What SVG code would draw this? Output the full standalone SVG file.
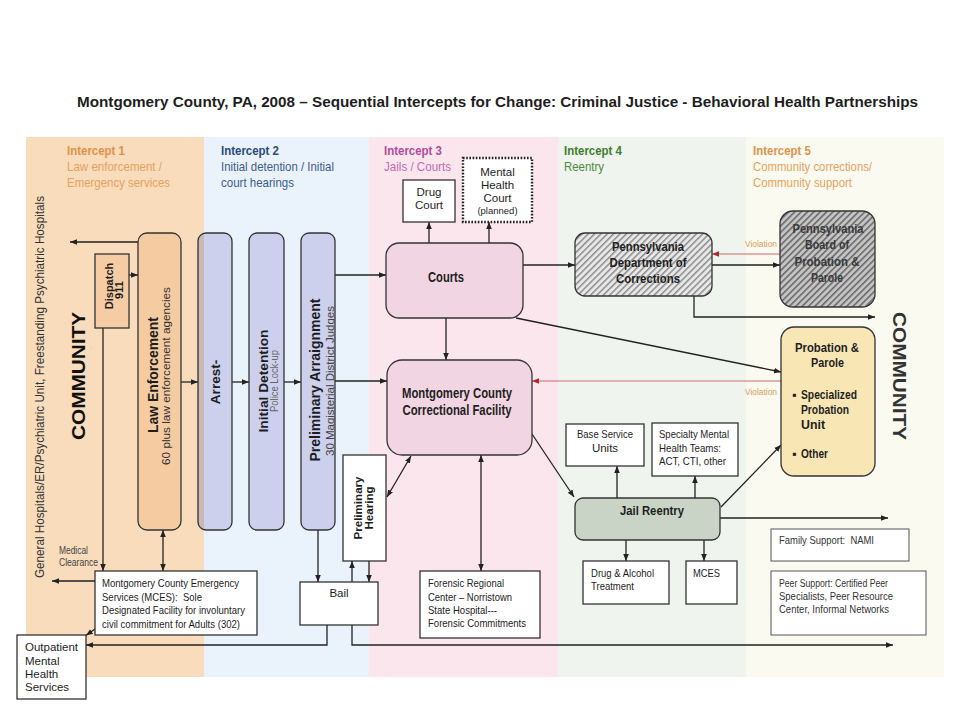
<svg xmlns="http://www.w3.org/2000/svg" width="960" height="720" viewBox="0 0 960 720">
<style>
.t{font-family:"Liberation Sans",Arial,Helvetica,sans-serif;font-size:11.5px;fill:#1e1e1e}
.b{font-weight:bold}
.m{text-anchor:middle}
.h{font-size:13.5px}
.box{stroke:#333;stroke-width:1.3}
.w{fill:#fff}
.lav{fill:#cdd0ec}
.pink{fill:#f2d5e2}
#connectors line,#connectors path{stroke:#222;stroke-width:1.3;fill:none}
#connectors .red{stroke:#cc6b6b;stroke-width:1}
.i1{fill:#e0924a}.i1s{fill:#e6a260}
.i2{fill:#2c4a7c}.i2s{fill:#3d5c8c}
.i3{fill:#b24b9b}.i3s{fill:#c46caf}
.i4{fill:#3f7d2e}.i4s{fill:#4b8a3b}
.viol{font-size:9.5px;fill:#d6a060}
</style>
<defs>
<marker id="ah" viewBox="0 0 10 10" refX="10" refY="5" markerWidth="7" markerHeight="7" markerUnits="userSpaceOnUse" orient="auto-start-reverse"><path d="M0,1 L10,5 L0,9z" fill="#222"/></marker>
<marker id="ahr" viewBox="0 0 10 10" refX="10" refY="5" markerWidth="7" markerHeight="7" markerUnits="userSpaceOnUse" orient="auto"><path d="M0,1 L10,5 L0,9z" fill="#b0262a"/></marker>
<pattern id="hatchL" width="4.5" height="4.5" patternUnits="userSpaceOnUse" patternTransform="rotate(45)"><rect width="4.5" height="4.5" fill="#e8e8e8"/><line x1="0.8" y1="0" x2="0.8" y2="4.5" stroke="#6a6a6a" stroke-width="1.1"/></pattern>
<pattern id="hatchD" width="4.5" height="4.5" patternUnits="userSpaceOnUse" patternTransform="rotate(45)"><rect width="4.5" height="4.5" fill="#c4c4c4"/><line x1="0.8" y1="0" x2="0.8" y2="4.5" stroke="#555" stroke-width="1.3"/></pattern>
<clipPath id="arrClip"><rect x="198" y="233" width="34" height="297" rx="8"/></clipPath>
<clipPath id="paClip"><rect x="301" y="233" width="33.5" height="297" rx="8"/></clipPath>
</defs>
<rect width="960" height="720" fill="#fff"/>
<g id="bands">
<rect x="26" y="137" width="178" height="540" fill="#f8dcbb"/>
<rect x="204" y="137" width="165" height="540" fill="#eaf2fc"/>
<rect x="369" y="137" width="189" height="540" fill="#fbe6ed"/>
<rect x="558" y="137" width="188" height="540" fill="#f0f4ef"/>
<rect x="746" y="137" width="198" height="540" fill="#fafaf0"/>
</g>
<text class="t b" x="77" y="107" style="font-size:15.5px" textLength="841" lengthAdjust="spacingAndGlyphs">Montgomery County, PA, 2008 – Sequential Intercepts for Change: Criminal Justice - Behavioral Health Partnerships</text>
<g id="headers">
<text class="t b h i1" x="67" y="155" textLength="58" lengthAdjust="spacingAndGlyphs">Intercept 1</text>
<text class="t h i1s" x="67" y="171" textLength="95" lengthAdjust="spacingAndGlyphs">Law enforcement /</text>
<text class="t h i1s" x="67" y="187" textLength="103" lengthAdjust="spacingAndGlyphs">Emergency services</text>
<text class="t b h i2" x="221" y="155" textLength="58" lengthAdjust="spacingAndGlyphs">Intercept 2</text>
<text class="t h i2s" x="221" y="171" textLength="113" lengthAdjust="spacingAndGlyphs">Initial detention / Initial</text>
<text class="t h i2s" x="221" y="187" textLength="73" lengthAdjust="spacingAndGlyphs">court hearings</text>
<text class="t b h i3" x="384" y="155" textLength="58" lengthAdjust="spacingAndGlyphs">Intercept 3</text>
<text class="t h i3s" x="384" y="171" textLength="67" lengthAdjust="spacingAndGlyphs">Jails / Courts</text>
<text class="t b h i4" x="564" y="155" textLength="58" lengthAdjust="spacingAndGlyphs">Intercept 4</text>
<text class="t h i4s" x="564" y="171" textLength="40" lengthAdjust="spacingAndGlyphs">Reentry</text>
<text class="t b h i1" x="753" y="155" textLength="58" lengthAdjust="spacingAndGlyphs">Intercept 5</text>
<text class="t h i1s" x="753" y="171" textLength="119" lengthAdjust="spacingAndGlyphs">Community corrections/</text>
<text class="t h i1s" x="753" y="187" textLength="99" lengthAdjust="spacingAndGlyphs">Community support</text>
</g>
<text class="t m" transform="translate(44,387) rotate(-90)" style="font-size:12px;fill:#333" textLength="382" lengthAdjust="spacingAndGlyphs">General Hospitals/ER/Psychiatric Unit, Freestanding Psychiatric Hospitals</text>
<text class="t b m" transform="translate(85,376) rotate(-90)" style="font-size:19px;fill:#111" textLength="128" lengthAdjust="spacingAndGlyphs">COMMUNITY</text>
<text class="t b m" transform="translate(893,376) rotate(90)" style="font-size:19px;fill:#333" textLength="128" lengthAdjust="spacingAndGlyphs">COMMUNITY</text>

<g id="connectors">
<line x1="138" y1="242" x2="70" y2="242" marker-end="url(#ah)"/>
<line x1="129" y1="275" x2="138" y2="275" marker-end="url(#ah)"/>
<line x1="103" y1="328" x2="103" y2="571" marker-end="url(#ah)"/>
<line x1="163" y1="530" x2="163" y2="571" marker-start="url(#ah)" marker-end="url(#ah)"/>
<line x1="95" y1="581" x2="52" y2="581" marker-end="url(#ah)"/>
<line x1="95" y1="629" x2="86" y2="635.5" marker-end="url(#ah)"/>
<line x1="181" y1="382" x2="198" y2="382" marker-end="url(#ah)"/>
<line x1="232" y1="382" x2="249" y2="382" marker-end="url(#ah)"/>
<line x1="284" y1="382" x2="301" y2="382" marker-end="url(#ah)"/>
<line x1="335" y1="275" x2="386" y2="275" marker-end="url(#ah)"/>
<line x1="335" y1="381" x2="387" y2="381" marker-end="url(#ah)"/>
<line x1="318" y1="530" x2="318" y2="582" marker-end="url(#ah)"/>
<line x1="352" y1="582" x2="352" y2="561" marker-end="url(#ah)"/>
<line x1="369" y1="561" x2="369" y2="582" marker-end="url(#ah)"/>
<path d="M327,625 V645 H86" marker-end="url(#ah)"/>
<path d="M352,625 V645 H893" marker-end="url(#ah)"/>
<line x1="387" y1="497" x2="411" y2="456" marker-start="url(#ah)" marker-end="url(#ah)"/>
<line x1="481" y1="455" x2="481" y2="571" marker-start="url(#ah)" marker-end="url(#ah)"/>
<line x1="446" y1="318" x2="446" y2="360" marker-end="url(#ah)"/>
<line x1="429" y1="243" x2="429" y2="222" marker-end="url(#ah)"/>
<line x1="489" y1="243" x2="489" y2="222" marker-end="url(#ah)"/>
<line x1="523" y1="265" x2="575" y2="265" marker-end="url(#ah)"/>
<line x1="516" y1="318" x2="781" y2="372" marker-end="url(#ah)"/>
<line x1="532" y1="434" x2="574" y2="497" marker-end="url(#ah)"/>
<line class="red" x1="781" y1="381" x2="532" y2="381" marker-end="url(#ahr)"/>
<line class="red" x1="780" y1="254" x2="712" y2="254" marker-end="url(#ahr)"/>
<line x1="712" y1="265" x2="780" y2="265" marker-end="url(#ah)"/>
<path d="M694,296 V317 H875" marker-end="url(#ah)"/>
<line x1="617" y1="498" x2="617" y2="466" marker-end="url(#ah)"/>
<line x1="695" y1="498" x2="695" y2="476" marker-end="url(#ah)"/>
<line x1="721" y1="507" x2="781" y2="445" marker-end="url(#ah)"/>
<line x1="720" y1="518" x2="888" y2="518" marker-end="url(#ah)"/>
<line x1="626" y1="540" x2="626" y2="561" marker-end="url(#ah)"/>
<line x1="704" y1="540" x2="704" y2="561" marker-end="url(#ah)"/>
</g>
<text class="t viol" x="745" y="247" textLength="32" lengthAdjust="spacingAndGlyphs">Violation</text>
<text class="t viol" x="745" y="395" textLength="32" lengthAdjust="spacingAndGlyphs">Violation</text>
<text class="t" x="59" y="554" style="font-size:10px;fill:#444" textLength="29" lengthAdjust="spacingAndGlyphs">Medical</text>
<text class="t" x="59" y="566" style="font-size:10px;fill:#444" textLength="39" lengthAdjust="spacingAndGlyphs">Clearance</text>

<g id="dispatch">
<rect class="box" x="95" y="254" width="34" height="74" fill="#f5cca3"/>
<text class="t b m" transform="translate(113,286) rotate(-90)" style="font-size:11px">Dispatch</text>
<text class="t b m" transform="translate(123,290) rotate(-90)" style="font-size:11px">911</text>
</g>
<g id="law-enforcement">
<rect class="box" x="138" y="233" width="43" height="297" rx="9" fill="#f5cba1"/>
<text class="t b m" transform="translate(158,375) rotate(-90)" style="font-size:14px" textLength="116" lengthAdjust="spacingAndGlyphs">Law Enforcement</text>
<text class="t m" transform="translate(170,376) rotate(-90)" style="font-size:11px;fill:#333" textLength="178" lengthAdjust="spacingAndGlyphs">60 plus law enforcement agencies</text>
</g>
<g id="arrest">
<rect class="lav" x="198" y="233" width="34" height="297" rx="8"/>
<rect x="198" y="233" width="6" height="297" fill="#cbb8b0" clip-path="url(#arrClip)"/>
<rect class="box" x="198" y="233" width="34" height="297" rx="8" fill="none"/>
<text class="t b m" transform="translate(220,382) rotate(-90)" style="font-size:13.5px">Arrest-</text>
</g>
<g id="initial-detention">
<rect class="box lav" x="249" y="233" width="35" height="297" rx="8"/>
<text class="t b m" transform="translate(268,381) rotate(-90)" style="font-size:13.5px" textLength="103" lengthAdjust="spacingAndGlyphs">Initial Detention</text>
<text class="t m" transform="translate(278,381) rotate(-90)" style="font-size:10px;fill:#666" textLength="62" lengthAdjust="spacingAndGlyphs">Police Lock-up</text>
</g>
<g id="preliminary-arraignment">
<rect class="box lav" x="301" y="233" width="34" height="297" rx="8"/>
<text class="t b m" transform="translate(320,380) rotate(-90)" style="font-size:14px" textLength="163" lengthAdjust="spacingAndGlyphs">Preliminary Arraignment</text>
<g clip-path="url(#paClip)"><text class="t m" transform="translate(333.5,381) rotate(-90)" style="font-size:10.5px;fill:#444" textLength="150" lengthAdjust="spacingAndGlyphs">30 Magisterial District Judges</text></g>
</g>
<g id="courts">
<rect class="box pink" x="386" y="243" width="137" height="75" rx="13"/>
<text class="t b m" x="446" y="282" style="font-size:14px" textLength="36" lengthAdjust="spacingAndGlyphs">Courts</text>
</g>
<g id="drug-court">
<rect class="box w" x="403" y="180" width="52" height="42"/>
<text class="t m" x="429" y="196">Drug</text>
<text class="t m" x="429" y="209">Court</text>
</g>
<g id="mental-health-court">
<rect x="463" y="158" width="69" height="64" fill="#fff" stroke="#222" stroke-width="2.4" stroke-dasharray="1.6 1.6"/>
<text class="t m" x="497.5" y="176">Mental</text>
<text class="t m" x="497.5" y="189">Health</text>
<text class="t m" x="497.5" y="202">Court</text>
<text class="t m" x="497.5" y="214" style="font-size:9.5px">(planned)</text>
</g>
<g id="mccf">
<rect class="box pink" x="387" y="360" width="145" height="95" rx="15"/>
<text class="t b m" x="457" y="398" style="font-size:14px" textLength="110" lengthAdjust="spacingAndGlyphs">Montgomery County</text>
<text class="t b m" x="457" y="415" style="font-size:14px" textLength="109" lengthAdjust="spacingAndGlyphs">Correctional Facility</text>
</g>
<g id="preliminary-hearing">
<rect class="box w" x="343" y="455" width="43" height="106"/>
<text class="t b m" transform="translate(362,508) rotate(-90)" style="font-size:11.5px" textLength="63" lengthAdjust="spacingAndGlyphs">Preliminary</text>
<text class="t b m" transform="translate(373,508) rotate(-90)" style="font-size:11.5px" textLength="43" lengthAdjust="spacingAndGlyphs">Hearing</text>
</g>
<g id="bail">
<rect class="box w" x="300" y="582" width="78" height="43"/>
<text class="t m" x="339" y="597">Bail</text>
</g>
<g id="mces">
<rect class="box w" x="95" y="571" width="162" height="64"/>
<text class="t" x="102" y="587" textLength="137" lengthAdjust="spacingAndGlyphs">Montgomery County Emergency</text>
<text class="t" x="102" y="601" textLength="100" lengthAdjust="spacingAndGlyphs" xml:space="preserve">Services (MCES):  Sole</text>
<text class="t" x="102" y="614" textLength="143" lengthAdjust="spacingAndGlyphs">Designated Facility for involuntary</text>
<text class="t" x="102" y="628" textLength="138" lengthAdjust="spacingAndGlyphs">civil commitment for Adults (302)</text>
</g>
<g id="outpatient">
<rect class="box w" x="17" y="635" width="69" height="64"/>
<text class="t" x="25" y="651">Outpatient</text>
<text class="t" x="25" y="665">Mental</text>
<text class="t" x="25" y="678">Health</text>
<text class="t" x="25" y="691">Services</text>
</g>
<g id="forensic">
<rect class="box w" x="420" y="571" width="120" height="67"/>
<text class="t" x="428" y="587" textLength="76" lengthAdjust="spacingAndGlyphs">Forensic Regional</text>
<text class="t" x="428" y="601" textLength="84" lengthAdjust="spacingAndGlyphs">Center – Norristown</text>
<text class="t" x="428" y="614" textLength="69" lengthAdjust="spacingAndGlyphs">State Hospital---</text>
<text class="t" x="428" y="627" textLength="98" lengthAdjust="spacingAndGlyphs">Forensic Commitments</text>
</g>
<g id="pa-doc">
<rect class="box" x="575" y="233" width="137" height="63" rx="10" fill="url(#hatchL)"/>
<text class="t b m" x="648" y="251" style="font-size:13px" textLength="72" lengthAdjust="spacingAndGlyphs">Pennsylvania</text>
<text class="t b m" x="648" y="267" style="font-size:13px" textLength="77" lengthAdjust="spacingAndGlyphs">Department of</text>
<text class="t b m" x="648" y="283" style="font-size:13px" textLength="64" lengthAdjust="spacingAndGlyphs">Corrections</text>
</g>
<g id="pa-board">
<rect class="box" x="780" y="211" width="95" height="96" rx="13" fill="url(#hatchD)"/>
<text class="t b m" x="828" y="233" style="font-size:13px;fill:#3a3a3a" textLength="71" lengthAdjust="spacingAndGlyphs">Pennsylvania</text>
<text class="t b m" x="827" y="249" style="font-size:13px;fill:#3a3a3a" textLength="44" lengthAdjust="spacingAndGlyphs">Board of</text>
<text class="t b m" x="827" y="266" style="font-size:13px;fill:#3a3a3a" textLength="65" lengthAdjust="spacingAndGlyphs">Probation &amp;</text>
<text class="t b m" x="827" y="282" style="font-size:13px;fill:#3a3a3a" textLength="32" lengthAdjust="spacingAndGlyphs">Parole</text>
</g>
<g id="probation-parole">
<rect class="box" x="781" y="327" width="94" height="149" rx="13" fill="#f8e7b5"/>
<text class="t b m" x="827" y="352" style="font-size:13px" textLength="64" lengthAdjust="spacingAndGlyphs">Probation &amp;</text>
<text class="t b m" x="827.5" y="367" style="font-size:13px" textLength="33" lengthAdjust="spacingAndGlyphs">Parole</text>
<text class="t b" x="792" y="399" style="font-size:12.5px">▪</text>
<text class="t b" x="801" y="399" style="font-size:13px" textLength="56" lengthAdjust="spacingAndGlyphs">Specialized</text>
<text class="t b" x="801" y="414" style="font-size:13px" textLength="48" lengthAdjust="spacingAndGlyphs">Probation</text>
<text class="t b" x="801" y="429" style="font-size:13px" textLength="24" lengthAdjust="spacingAndGlyphs">Unit</text>
<text class="t b" x="792" y="458" style="font-size:12.5px">▪</text>
<text class="t b" x="801" y="458" style="font-size:13px" textLength="27" lengthAdjust="spacingAndGlyphs">Other</text>
</g>
<g id="base-service-units">
<rect class="box w" x="566" y="424" width="78" height="42"/>
<text class="t m" x="605" y="438" textLength="56" lengthAdjust="spacingAndGlyphs">Base Service</text>
<text class="t m" x="605" y="452">Units</text>
</g>
<g id="specialty-mh-teams">
<rect class="box w" x="652" y="423" width="86" height="53"/>
<text class="t" x="659" y="438" textLength="70" lengthAdjust="spacingAndGlyphs">Specialty Mental</text>
<text class="t" x="659" y="452" textLength="62" lengthAdjust="spacingAndGlyphs">Health Teams:</text>
<text class="t" x="659" y="465" textLength="67" lengthAdjust="spacingAndGlyphs">ACT, CTI, other</text>
</g>
<g id="jail-reentry">
<rect class="box" x="575" y="498" width="145" height="42" rx="8" fill="#c9d4c6"/>
<text class="t b m" x="652" y="515" style="font-size:13px" textLength="64" lengthAdjust="spacingAndGlyphs">Jail Reentry</text>
</g>
<g id="drug-alcohol">
<rect class="box w" x="583" y="561" width="86" height="43"/>
<text class="t" x="591" y="577" textLength="63" lengthAdjust="spacingAndGlyphs">Drug &amp; Alcohol</text>
<text class="t" x="591" y="590" textLength="43" lengthAdjust="spacingAndGlyphs">Treatment</text>
</g>
<g id="mces-reentry">
<rect class="box w" x="686" y="561" width="51" height="43"/>
<text class="t" x="693" y="577" textLength="27" lengthAdjust="spacingAndGlyphs">MCES</text>
</g>
<g id="family-support">
<rect x="771" y="529" width="138" height="32" fill="#fff" stroke="#555" stroke-width="1"/>
<text class="t" x="779" y="544" style="font-size:11px;fill:#333" textLength="95" lengthAdjust="spacingAndGlyphs" xml:space="preserve">Family Support:  NAMI</text>
</g>
<g id="peer-support">
<rect x="771" y="571" width="155" height="64" fill="#fff" stroke="#555" stroke-width="1"/>
<text class="t" x="779" y="587" style="font-size:11px;fill:#333" textLength="109" lengthAdjust="spacingAndGlyphs">Peer Support: Certified Peer</text>
<text class="t" x="779" y="600" style="font-size:11px;fill:#333" textLength="114" lengthAdjust="spacingAndGlyphs">Specialists, Peer Resource</text>
<text class="t" x="779" y="613" style="font-size:11px;fill:#333" textLength="110" lengthAdjust="spacingAndGlyphs">Center, Informal Networks</text>
</g>
</svg>
